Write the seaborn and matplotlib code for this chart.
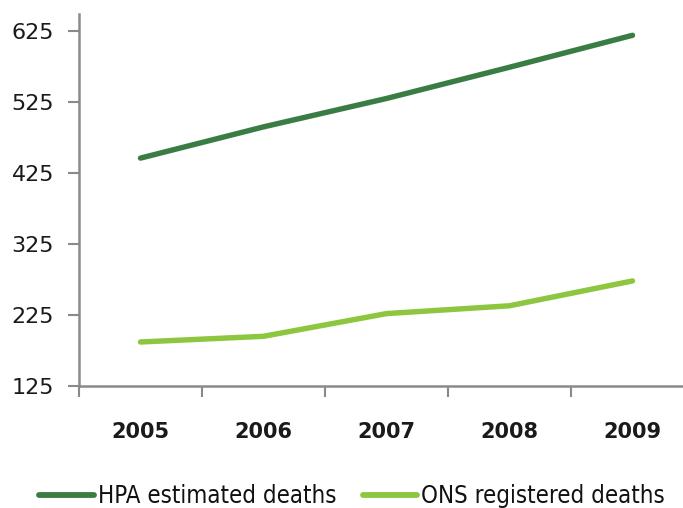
import matplotlib
matplotlib.use("Agg")
import matplotlib.pyplot as plt
import seaborn as sns
import pandas as pd
from matplotlib.ticker import FixedLocator
from matplotlib.font_manager import FontProperties

years = [2005, 2006, 2007, 2008, 2009]
hpa_estimated = [446, 490, 530, 574, 619]
ons_registered = [187, 195, 227, 238, 273]
series_names = ["HPA estimated deaths", "ONS registered deaths"]
y_ticks = [125, 225, 325, 425, 525, 625]

df = pd.DataFrame({
    "year": years * 2,
    "deaths": hpa_estimated + ons_registered,
    "series": [series_names[0]] * len(years) + [series_names[1]] * len(years),
})

sns.set_theme(style="white")
plt.rcParams["font.family"] = ["DejaVu Sans"]

axis_grey = "#8a8a8a"
palette = {series_names[0]: "#3a7d44", series_names[1]: "#8dc63f"}

fig = plt.figure(figsize=(6.83, 5.08), dpi=100)
ax = fig.add_axes([79 / 683, 122 / 508, 615 / 683, 372 / 508])

sns.lineplot(data=df, x="year", y="deaths", hue="series", palette=palette,
             linewidth=3.9, ax=ax, legend=True)
for line in ax.lines:
    line.set_solid_capstyle("round")

ax.set_xlim(2004.5, 2009.5)
ax.set_ylim(125, 649)
ax.set_yticks(y_ticks)
ax.set_yticklabels([str(v) for v in y_ticks], fontsize=16)
ax.set_xticks(years)
ax.set_xticklabels([str(y) for y in years], fontweight="bold", fontsize=15)
ax.xaxis.set_minor_locator(FixedLocator([y - 0.5 for y in years]))
ax.tick_params(axis="x", which="major", length=0, pad=26)
ax.tick_params(axis="x", which="minor", length=8, width=1.5, color=axis_grey,
               direction="out", bottom=True)
ax.tick_params(axis="y", length=8, width=1.5, color=axis_grey,
               pad=10, left=True, direction="out")
for lbl in ax.get_yticklabels() + ax.get_xticklabels():
    lbl.set_color("#1a1a1a")

ax.set_xlabel("")
ax.set_ylabel("")
sns.despine(ax=ax)
for side in ("left", "bottom"):
    ax.spines[side].set_color(axis_grey)
    ax.spines[side].set_linewidth(1.8)

legend_font = FontProperties(family=["DejaVu Sans"], stretch="condensed", size=17.2)

handles, labels = ax.get_legend_handles_labels()
ax.legend_.remove()
for h in handles:
    h.set_solid_capstyle("round")
    h.set_linewidth(4.2)
leg = fig.legend(handles, labels, loc="center", bbox_to_anchor=(352 / 683, 1 - 496 / 508),
                 ncol=2, frameon=False, handlelength=2.3, handletextpad=0.15,
                 columnspacing=1.1, prop=legend_font)
for t in leg.get_texts():
    t.set_color("#111111")

fig.savefig("out.png", dpi=100)
